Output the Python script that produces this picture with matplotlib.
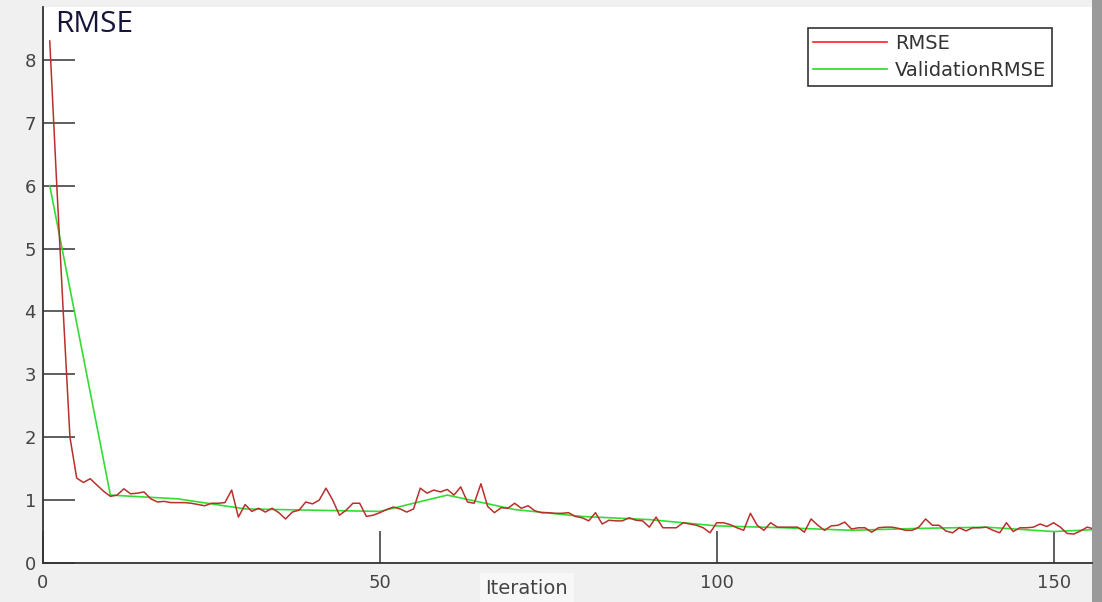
import numpy as np
import matplotlib
matplotlib.use("Agg")
from matplotlib import pyplot as plt
from matplotlib.lines import Line2D
from matplotlib.patches import Rectangle

# training RMSE, one value per iteration (1..156)
rmse = [8.3, 6.1, 4.0, 2.0, 1.35, 1.28, 1.34, 1.24, 1.14, 1.06,
        1.08, 1.18, 1.10, 1.11, 1.13, 1.02, 0.97, 0.98, 0.96, 0.96,
        0.96, 0.95, 0.93, 0.91, 0.95, 0.95, 0.96, 1.16, 0.73, 0.93,
        0.82, 0.87, 0.81, 0.87, 0.80, 0.70, 0.81, 0.84, 0.97, 0.94,
        1.00, 1.19, 1.00, 0.76, 0.84, 0.95, 0.95, 0.74, 0.76, 0.80,
        0.85, 0.89, 0.86, 0.81, 0.86, 1.19, 1.11, 1.16, 1.13, 1.17,
        1.08, 1.21, 0.97, 0.95, 1.26, 0.90, 0.80, 0.88, 0.87, 0.95,
        0.87, 0.91, 0.83, 0.80, 0.80, 0.79, 0.79, 0.80, 0.74, 0.72,
        0.67, 0.80, 0.62, 0.68, 0.67, 0.67, 0.72, 0.68, 0.67, 0.57,
        0.73, 0.56, 0.56, 0.56, 0.64, 0.62, 0.60, 0.56, 0.48, 0.64,
        0.64, 0.61, 0.56, 0.52, 0.79, 0.60, 0.52, 0.64, 0.57, 0.57,
        0.57, 0.57, 0.49, 0.70, 0.60, 0.52, 0.59, 0.60, 0.65, 0.54,
        0.56, 0.56, 0.49, 0.56, 0.57, 0.57, 0.55, 0.52, 0.52, 0.57,
        0.70, 0.60, 0.60, 0.51, 0.48, 0.56, 0.51, 0.56, 0.56, 0.57,
        0.52, 0.48, 0.64, 0.50, 0.56, 0.56, 0.57, 0.62, 0.58, 0.64,
        0.57, 0.47, 0.46, 0.51, 0.57, 0.54]
iters = np.arange(1, len(rmse) + 1)

# validation RMSE, evaluated every 10 iterations
val_iters = [1, 10, 20, 30, 40, 50, 60, 70, 80, 90, 100, 110, 120, 130, 140, 150, 156]
val_rmse = [6.0, 1.08, 1.02, 0.86, 0.84, 0.82, 1.08, 0.85, 0.74, 0.69,
            0.59, 0.56, 0.52, 0.55, 0.57, 0.50, 0.53]

xticks = [0, 50, 100, 150]
yticks = [0, 1, 2, 3, 4, 5, 6, 7, 8]

fig = plt.figure(figsize=(11.02, 6.02), dpi=100, facecolor='#f0f0f0')
ax = fig.add_axes([43/1102, 39/602, 1049/1102, 556/602])
ax.set_facecolor('white')

# right edge shadow of the screenshot
fig.patches.append(Rectangle((1092/1102, 0), 10/1102, 1, transform=fig.transFigure,
                             facecolor='#9a9a9a', edgecolor='none', zorder=-1))

ax.plot(val_iters, val_rmse, color='#33dd33', lw=1.2, zorder=2)
ax.plot(iters, rmse, color='#b8302c', lw=1.1, zorder=3)

ax.set_xlim(0, 155.7)
ax.set_ylim(0, 8.84)
ax.set_xticks(xticks)
ax.set_yticks(yticks)

for s in ['top', 'right']:
    ax.spines[s].set_visible(False)
for s in ['left', 'bottom']:
    ax.spines[s].set_color('#333333')
    ax.spines[s].set_linewidth(1.3)

ax.tick_params(axis='both', direction='in', length=23, width=1.1, color='#333333',
               labelsize=13, labelcolor='#444444')
ax.tick_params(axis='x', pad=8)
ax.tick_params(axis='y', pad=5)

ax.set_xlabel('Iteration', fontsize=14, color='#444444',
              bbox=dict(facecolor='#f7f7f7', edgecolor='none', pad=4))
ax.xaxis.set_label_coords(0.461, -0.045)
ax.xaxis.label.set_va('center')

fig.text(55/1102, 1 - 32/602, 'RMSE', fontsize=21.5, color='#15153a',
         family='Open Sans', va='baseline')

handles = [Line2D([], [], color='#ff2020', lw=1.2),
           Line2D([], [], color='#22dd22', lw=1.2)]
leg = ax.legend(handles, ['RMSE', 'ValidationRMSE'], loc='upper right',
                bbox_to_anchor=(0.962, 0.962), borderaxespad=0, fontsize=14,
                fancybox=False, framealpha=1, edgecolor='#333333',
                handlelength=3.8, borderpad=0.3, labelspacing=0.4,
                handletextpad=0.4)
leg.get_frame().set_linewidth(1.2)
for t in leg.get_texts():
    t.set_color('#333333')

fig.savefig('out.png', dpi=100, facecolor=fig.get_facecolor())
